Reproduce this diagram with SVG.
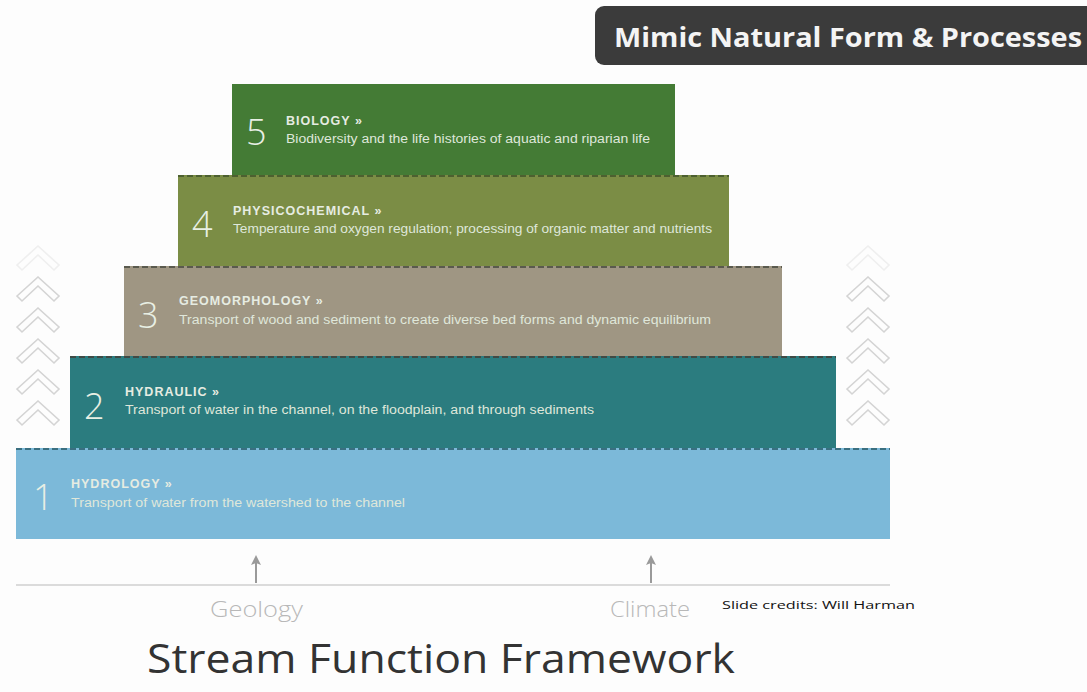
<svg xmlns="http://www.w3.org/2000/svg" width="1087" height="692" viewBox="0 0 1087 692">
<defs>
<style>
.num{font-family:"Open Sans","Liberation Sans",sans-serif;font-weight:300;font-size:36px;fill:#e8efe4}
.hd{font-family:"Liberation Sans",Arial,sans-serif;font-weight:bold;font-size:12.5px;fill:#e6ece2;letter-spacing:1px}
.ds{font-family:"Liberation Sans",Arial,sans-serif;font-size:12px;fill:#dfe7da}
.dash{stroke-width:2;stroke-dasharray:6 3;fill:none}
.chev{fill:none;stroke:#d4d4d4;stroke-width:1.6}
.lbl{font-family:"Open Sans","Liberation Sans",sans-serif;font-weight:300;font-size:22px;fill:#b8b8b8}
</style>
<g id="chv"><path class="chev" d="M-21,19 L0,0 L21,19 L16,24 L0,9 L-16,24 Z"/></g>
<marker id="ah" markerWidth="10" markerHeight="10" refX="5" refY="5" orient="auto" markerUnits="userSpaceOnUse"><path d="M0,0 L10,5 L0,10 L2,5 Z" fill="#9a9a9a"/></marker>
</defs>
<rect width="1087" height="692" fill="#fdfdfd"/>

<g id="title">
<rect x="595" y="6" width="510" height="59" rx="9" fill="#3b3b3b"/>
<text x="614" y="47" font-family="Open Sans,Liberation Sans,sans-serif" font-weight="bold" font-size="26" fill="#f4f4f4" textLength="468" lengthAdjust="spacingAndGlyphs">Mimic Natural Form &amp; Processes</text>
</g>

<g id="chevrons-left">
<use href="#chv" x="38" y="246" opacity="0.35"/>
<use href="#chv" x="38" y="277"/>
<use href="#chv" x="38" y="308"/>
<use href="#chv" x="38" y="339"/>
<use href="#chv" x="38" y="370"/>
<use href="#chv" x="38" y="401"/>
</g>
<g id="chevrons-right">
<use href="#chv" x="868" y="246" opacity="0.35"/>
<use href="#chv" x="868" y="277"/>
<use href="#chv" x="868" y="308"/>
<use href="#chv" x="868" y="339"/>
<use href="#chv" x="868" y="370"/>
<use href="#chv" x="868" y="401"/>
</g>

<g id="tier1">
<rect x="16" y="448" width="874" height="91" fill="#7cb9d9"/>
<line class="dash" x1="16" y1="449" x2="890" y2="449" stroke="#3a6f80"/>
<text class="num" x="33" y="510">1</text>
<text class="hd" x="71" y="488">HYDROLOGY »</text>
<text class="ds" x="71" y="507" textLength="334" lengthAdjust="spacingAndGlyphs">Transport of water from the watershed to the channel</text>
</g>

<g id="tier2">
<rect x="70" y="356" width="766" height="92" fill="#2b7c7f"/>
<line class="dash" x1="70" y1="357" x2="836" y2="357" stroke="#3f4a45"/>
<text class="num" x="84" y="419">2</text>
<text class="hd" x="125" y="396">HYDRAULIC »</text>
<text class="ds" x="125" y="414" textLength="469" lengthAdjust="spacingAndGlyphs">Transport of water in the channel, on the floodplain, and through sediments</text>
</g>

<g id="tier3">
<rect x="124" y="266" width="658" height="90" fill="#9f9683"/>
<line class="dash" x1="124" y1="267" x2="782" y2="267" stroke="#5a5a4e"/>
<text class="num" x="138" y="328">3</text>
<text class="hd" x="179" y="305">GEOMORPHOLOGY »</text>
<text class="ds" x="179" y="324" textLength="532" lengthAdjust="spacingAndGlyphs">Transport of wood and sediment to create diverse bed forms and  dynamic equilibrium</text>
</g>

<g id="tier4">
<rect x="178" y="175" width="551" height="91" fill="#7b8d45"/>
<line class="dash" x1="178" y1="176" x2="729" y2="176" stroke="#4d6030"/>
<text class="num" x="192" y="237">4</text>
<text class="hd" x="233" y="215">PHYSICOCHEMICAL »</text>
<text class="ds" x="233" y="233" textLength="479" lengthAdjust="spacingAndGlyphs">Temperature and oxygen regulation; processing of organic matter and nutrients</text>
</g>

<g id="tier5">
<rect x="232" y="84" width="443" height="91" fill="#447b35"/>
<text class="num" x="246" y="145">5</text>
<text class="hd" x="286" y="125">BIOLOGY »</text>
<text class="ds" x="286" y="143" textLength="364" lengthAdjust="spacingAndGlyphs">Biodiversity and the life histories of aquatic and riparian life</text>
</g>

<g id="connectors">
<line x1="16" y1="585" x2="890" y2="585" stroke="#cfcfcf" stroke-width="1.5"/>
<line x1="256" y1="583" x2="256" y2="560" stroke="#9a9a9a" stroke-width="2" marker-end="url(#ah)"/>
<line x1="651" y1="583" x2="651" y2="560" stroke="#9a9a9a" stroke-width="2" marker-end="url(#ah)"/>
</g>

<g id="labels">
<text class="lbl" x="210" y="617" textLength="93" lengthAdjust="spacingAndGlyphs">Geology</text>
<text class="lbl" x="610" y="617" textLength="80" lengthAdjust="spacingAndGlyphs">Climate</text>
<text x="722" y="609" font-family="Open Sans,Liberation Sans,sans-serif" font-size="11" fill="#111" textLength="193" lengthAdjust="spacingAndGlyphs">Slide credits:  Will Harman</text>
<text x="147" y="673" font-family="Open Sans,Liberation Sans,sans-serif" font-size="40" fill="#333" textLength="588" lengthAdjust="spacingAndGlyphs">Stream Function Framework</text>
</g>
</svg>
